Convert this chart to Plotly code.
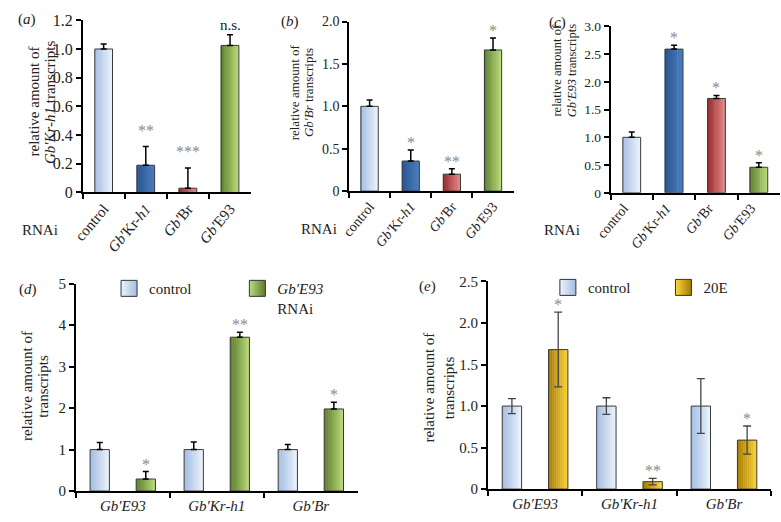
import plotly.graph_objects as go

W, H = 781, 522

# ---------------- data ----------------
top_cats = ["control", "Gb'Kr-h1", "Gb'Br", "Gb'E93"]
top_ticktext = ["control", "<i>Gb′</i>Kr-<i>h1</i>", "<i>Gb′</i>Br", "<i>Gb′</i>E93"]
top_colors = ["ltblue", "blue", "red", "green"]

a_vals = [1.00, 0.19, 0.03, 1.025]
a_err = [0.035, 0.13, 0.14, 0.075]
a_sig = ["", "**", "***", "n.s."]

b_vals = [1.00, 0.355, 0.20, 1.665]
b_err = [0.075, 0.13, 0.065, 0.14]
b_sig = ["", "*", "**", "*"]

c_vals = [1.00, 2.59, 1.70, 0.46]
c_err = [0.095, 0.07, 0.055, 0.08]
c_sig = ["", "*", "*", "*"]

bot_cats = ["Gb'E93", "Gb'Kr-h1", "Gb'Br"]
bot_ticktext = ["<i>Gb′E93</i>", "<i>Gb′Kr-h1</i>", "<i>Gb′Br</i>"]

d_ctrl = [1.0, 1.0, 1.0]
d_ctrl_err = [0.17, 0.18, 0.12]
d_rnai = [0.29, 3.71, 1.98]
d_rnai_err = [0.18, 0.12, 0.16]
d_sig = ["*", "**", "*"]

e_ctrl = [1.0, 1.0, 1.0]
e_ctrl_err = [0.09, 0.10, 0.33]
e_20e = [1.68, 0.09, 0.59]
e_20e_err = [0.45, 0.04, 0.17]
e_sig = ["*", "**", "*"]

# ---------------- style ----------------
FONT = "'Liberation Serif', 'Times New Roman', Times, 'DejaVu Serif', serif"
TXT = "#222222"
GRAD = {
    "ltblue": ("#a2bde2", "#edf3fb"),
    "blue": ("#28548f", "#4a7dbf"),
    "red": ("#94282a", "#e48a8a"),
    "green": ("#5b7d2d", "#bcdb7c"),
    "gold": ("#a27900", "#ffd63c"),
}
N = 10


def h2r(h):
    h = h.lstrip("#")
    return [int(h[i:i + 2], 16) for i in (0, 2, 4)]


def mix(name, t):
    a, b = GRAD[name]
    ra, rb = h2r(a), h2r(b)
    c = [round(ra[k] + (rb[k] - ra[k]) * t) for k in range(3)]
    return "rgb(%d,%d,%d)" % tuple(c)


def fx(px):
    return px / W


def fy(py):
    return 1 - py / H


fig = go.Figure()


def grad_bars(xa, ya, cats, vals, errs, cols, off, width, ecol="black", sym=False,
              ethick=1.5, ewidth=3):
    for i in range(N):
        t = (i + 0.5) / N
        w = width / N + (0.004 if i < N - 1 else 0)
        fig.add_trace(go.Bar(
            x=cats, y=vals, xaxis=xa, yaxis=ya, offset=off + i * width / N, width=w,
            marker=dict(color=[mix(c, t) for c in cols], line=dict(width=0)),
            showlegend=False, hoverinfo="skip"))
    if sym:
        ey = dict(type="data", array=errs, color=ecol, thickness=ethick, width=ewidth)
    else:
        ey = dict(type="data", symmetric=False, array=errs, arrayminus=[0] * len(errs),
                  color=ecol, thickness=ethick, width=ewidth)
    fig.add_trace(go.Bar(
        x=cats, y=vals, xaxis=xa, yaxis=ya, offset=off, width=width,
        marker=dict(color="rgba(0,0,0,0)", line=dict(color="#3a3a3a", width=1)),
        error_y=ey, showlegend=False, hoverinfo="skip"))


def stars(xa, ya, xs, tops, labels, size=16, yshift=-3):
    for x, t, s in zip(xs, tops, labels):
        if not s:
            continue
        if s == "n.s.":
            fig.add_annotation(x=x, y=t, xref=xa, yref=ya, text=s, showarrow=False,
                               yanchor="bottom", yshift=0,
                               font=dict(family=FONT, size=15, color=TXT))
        else:
            fig.add_annotation(x=x, y=t, xref=xa, yref=ya, text=s, showarrow=False,
                               yanchor="bottom", yshift=yshift,
                               font=dict(family=FONT, size=size, color="#8a8a8a"))


TW = 0.42
# (a)
grad_bars("x", "y", top_cats, a_vals, a_err, top_colors, -TW / 2, TW)
stars("x", "y", list(range(4)), [v + e for v, e in zip(a_vals, a_err)], a_sig, yshift=6)
# (b)
grad_bars("x2", "y2", top_cats, b_vals, b_err, top_colors, -TW / 2, TW)
stars("x2", "y2", list(range(4)), [v + e for v, e in zip(b_vals, b_err)], b_sig)
# (c)
grad_bars("x3", "y3", top_cats, c_vals, c_err, top_colors, -TW / 2, TW)
stars("x3", "y3", list(range(4)), [v + e for v, e in zip(c_vals, c_err)], c_sig)

BW, BO = 0.205, 0.245
# (d)
grad_bars("x4", "y4", bot_cats, d_ctrl, d_ctrl_err, ["ltblue"] * 3, -BO - BW / 2, BW)
grad_bars("x4", "y4", bot_cats, d_rnai, d_rnai_err, ["green"] * 3, BO - BW / 2, BW)
stars("x4", "y4", [i + BO for i in range(3)], [v + e for v, e in zip(d_rnai, d_rnai_err)], d_sig)
# (e)
grad_bars("x5", "y5", bot_cats, e_ctrl, e_ctrl_err, ["ltblue"] * 3, -BO - BW / 2, BW,
          ecol="#444444", sym=True, ethick=1.3, ewidth=4)
grad_bars("x5", "y5", bot_cats, e_20e, e_20e_err, ["gold"] * 3, BO - BW / 2, BW,
          ecol="#444444", sym=True, ethick=1.3, ewidth=4)
stars("x5", "y5", [i + BO for i in range(3)], [v + e for v, e in zip(e_20e, e_20e_err)], e_sig)


# legends
def leg_entry(name, col, legend, xa, ya):
    fig.add_trace(go.Scatter(
        x=[None], y=[None], xaxis=xa, yaxis=ya, mode="markers", name=name, legend=legend,
        marker=dict(symbol="square", size=16, color=GRAD[col][1],
                    gradient=dict(type="horizontal", color=GRAD[col][0]),
                    line=dict(color="#333333", width=1)),
        hoverinfo="skip"))


leg_entry("control", "ltblue", "legend", "x4", "y4")
leg_entry("<i>Gb′E93</i><br>RNAi", "green", "legend2", "x4", "y4")
leg_entry("control", "ltblue", "legend3", "x5", "y5")
leg_entry("20E", "gold", "legend4", "x5", "y5")

legfont = dict(family=FONT, size=15, color=TXT)


def legpos(px, py, valign="middle"):
    return dict(x=fx(px), y=fy(py), xanchor="left", yanchor="top", font=legfont,
                bgcolor="rgba(0,0,0,0)", borderwidth=0, valign=valign,
                itemsizing="trace")


# ---------------- axes ----------------
def xaxis(d0, d1, anchor, cats, ticktext, angle, size, shift=0):
    return dict(domain=[fx(d0), fx(d1)], anchor=anchor, type="category",
                range=[-0.5, len(cats) - 0.5], tickmode="array", tickvals=cats,
                ticktext=ticktext, tickangle=angle, tickson="boundaries",
                ticks="outside", ticklen=5, tickwidth=1.5, tickcolor="black",
                showline=True, linecolor="black", linewidth=1.5, showgrid=False,
                zeroline=False, tickfont=dict(family=FONT, size=size, color=TXT),
                ticklabelshift=shift, fixedrange=True)


def yaxis(p0, p1, anchor, top, tickvals, ticktext, size):
    return dict(domain=[fy(p0), fy(p1)], anchor=anchor, range=[0, top],
                tickmode="array", tickvals=tickvals, ticktext=ticktext,
                ticks="outside", ticklen=5, tickwidth=1.5, tickcolor="black",
                showline=True, linecolor="black", linewidth=1.5, showgrid=False,
                zeroline=False, tickfont=dict(family=FONT, size=size, color=TXT),
                fixedrange=True)


a_yt = [0, 0.2, 0.4, 0.6, 0.8, 1.0, 1.2]
b_yt = [0, 0.5, 1.0, 1.5, 2.0]
c_yt = [0, 0.5, 1.0, 1.5, 2.0, 2.5, 3.0]
d_yt = [0, 1, 2, 3, 4, 5]
e_yt = [0, 0.5, 1.0, 1.5, 2.0, 2.5]


def lab(v):
    return "0" if v == 0 else ("%g" % v if isinstance(v, int) else "%.1f" % v)


fig.update_layout(
    width=W, height=H, margin=dict(l=0, r=0, t=0, b=0),
    paper_bgcolor="white", plot_bgcolor="white", barmode="overlay",
    font=dict(family=FONT, color=TXT),
    xaxis=xaxis(68, 240, "y", top_cats, top_ticktext, -50, 15, 0),
    yaxis=yaxis(190.7, 12.7, "x", 1.2, a_yt, [lab(v) for v in a_yt], 16),
    xaxis2=xaxis(340, 508, "y2", top_cats, top_ticktext, -50, 14, 0),
    yaxis2=yaxis(189.3, 14, "x2", 2.0, b_yt, [lab(v) for v in b_yt], 14),
    xaxis3=xaxis(607, 780, "y3", top_cats, top_ticktext, -50, 14, -8),
    yaxis3=yaxis(191, 19, "x3", 3.0, c_yt, [lab(v) for v in c_yt], 13.5),
    xaxis4=xaxis(61, 349, "y4", bot_cats, bot_ticktext, 0, 15),
    yaxis4=yaxis(499.3, 285, "x4", 5, d_yt, [lab(v) for v in d_yt], 15),
    xaxis5=xaxis(481.7, 771, "y5", bot_cats, bot_ticktext, 0, 15),
    yaxis5=yaxis(497.3, 282.7, "x5", 2.5, e_yt, [lab(v) for v in e_yt], 15),
    legend=legpos(95, 273),
    legend2=legpos(226, 273, "top"),
    legend3=legpos(543, 272),
    legend4=legpos(661, 272),
)

# ---------------- text annotations ----------------
def ptext(text, px, py, size=14, angle=0):
    fig.add_annotation(text=text, x=fx(px), y=fy(py), xref="paper", yref="paper",
                       showarrow=False, textangle=angle, xanchor="center", yanchor="middle",
                       font=dict(family=FONT, size=size, color=TXT))


ptext("(<i>a</i>)", 11, 12, 15)
ptext("(<i>b</i>)", 280, 14, 15)
ptext("(<i>c</i>)", 553, 15, 15)
ptext("(<i>d</i>)", 12, 291, 15)
ptext("(<i>e</i>)", 420, 288, 15)

ptext("RNAi", 24, 229, 15)
ptext("RNAi", 309, 228, 15)
ptext("RNAi", 557, 229, 15)

# y-axis titles, one annotation per line
ptext("relative amount of", 18, 97, 15, -90)
ptext("<i>Gb′Kr-h1</i> transcripts", 35, 97, 15, -90)
ptext("relative amount of", 284, 87, 13, -90)
ptext("<i>Gb′Br</i> transcripts", 298, 87, 13, -90)
ptext("relative amount of", 552, 65, 12.5, -90)
ptext("<i>Gb′E93</i> transcripts", 568, 65, 12.5, -90)
ptext("relative amount of", 11, 391, 15, -90)
ptext("transcripts", 28, 391, 15, -90)
ptext("relative amount of", 422, 392, 15, -90)
ptext("transcripts", 442, 392, 15, -90)

fig.write_html("out.html", config={"displayModeBar": False},
               post_script="document.body.style.margin='0';document.body.style.padding='0';")
